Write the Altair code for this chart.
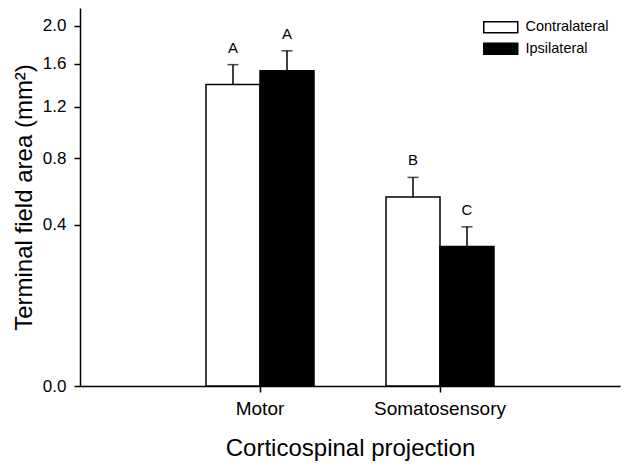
import altair as alt
import pandas as pd

projections = ["Motor", "Somatosensory"]
sides = ["Contralateral", "Ipsilateral"]
contra_mean = [1.40, 0.55]
ipsi_mean = [1.53, 0.30]
contra_sem = [0.19, 0.12]
ipsi_sem = [0.20, 0.09]
contra_letters = ["A", "B"]
ipsi_letters = ["A", "C"]
y_ticks = [0.0, 0.2, 0.4, 0.6, 0.8, 1.0, 1.2, 1.4, 1.6, 1.8, 2.0, 2.2]

rows = []
for i, p in enumerate(projections):
    rows.append(dict(proj=p, side=sides[0], mean=contra_mean[i], sem=contra_sem[i], letter=contra_letters[i]))
    rows.append(dict(proj=p, side=sides[1], mean=ipsi_mean[i], sem=ipsi_sem[i], letter=ipsi_letters[i]))
df = pd.DataFrame(rows)
df["top"] = df["mean"] + df["sem"]

FONT = "Liberation Sans"

x = alt.X("proj:N",
          scale=alt.Scale(domain=projections, paddingInner=0.4, paddingOuter=0.7),
          axis=alt.Axis(title="Corticospinal projection", labelAngle=0, labelFontSize=19,
                        titleFontSize=24, tickSize=6, labelPadding=7, titlePadding=18))
xoff = alt.XOffset("side:N", scale=alt.Scale(domain=sides, paddingInner=0, paddingOuter=0))
yscale = alt.Scale(type="sqrt", domain=[0, 2.2], nice=False, zero=True)

bars = alt.Chart(df).mark_bar(stroke="black", strokeWidth=1.5).encode(
    x=x,
    xOffset=xoff,
    y=alt.Y("mean:Q", scale=yscale,
            axis=alt.Axis(title="Terminal field area (mm²)", values=y_ticks,
                          labelExpr="round(datum.value*10) % 4 == 0 ? format(datum.value, '.1f') : ''",
                          labelFontSize=17, titleFontSize=24, tickSize=6, labelPadding=8,
                          titlePadding=6)),
    fill=alt.Fill("side:N", scale=alt.Scale(domain=sides, range=["white", "black"]),
                  legend=alt.Legend(orient="none", legendX=413.5, legendY=12, title=None,
                                    symbolType="M-3.09,-1H3.09V1H-3.09Z", symbolSize=121,
                                    symbolStrokeColor="black", symbolStrokeWidth=1.5,
                                    labelFontSize=14.5, labelFont=FONT, padding=0,
                                    rowPadding=3.5, labelOffset=17.5)),
)

err = alt.Chart(df).mark_rule(color="black", strokeWidth=1.5).encode(
    x=x, xOffset=xoff, y=alt.Y("mean:Q", scale=yscale), y2="top:Q")

caps = alt.Chart(df).mark_tick(color="black", size=11, thickness=1.5).encode(
    x=x, xOffset=xoff, y=alt.Y("top:Q", scale=yscale))

letters = alt.Chart(df).mark_text(baseline="bottom", dy=-9, fontSize=15, font=FONT, color="black").encode(
    x=x, xOffset=xoff, y=alt.Y("top:Q", scale=yscale), text="letter:N")

chart = alt.layer(bars, err, caps, letters).properties(
    width=540, height=378,
    autosize=alt.AutoSizeParams(type="none"),
    padding={"left": 72, "top": 0, "right": 1, "bottom": 75},
).configure_axis(
    labelFont=FONT, titleFont=FONT, domainColor="black", tickColor="black",
    labelColor="black", titleColor="black", grid=False, domainWidth=1.5, tickWidth=1.5,
    titleFontWeight="normal",
).configure_view(stroke=None)

chart.save("out.html", embed_options={"renderer": "svg", "actions": False})
